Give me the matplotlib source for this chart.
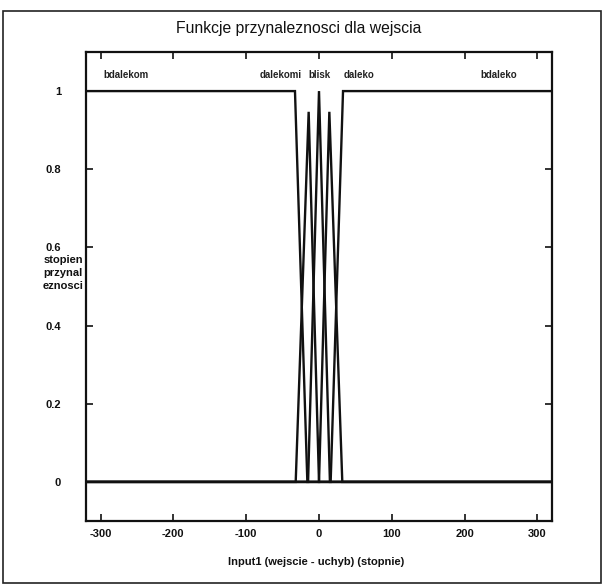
import matplotlib
matplotlib.use("Agg")
import matplotlib.pyplot as plt
from matplotlib.patches import Rectangle

plt.rcParams['font.family'] = ['Liberation Sans', 'DejaVu Sans']

# Membership functions (vertices)
bdalekom_x = [-320, -33, -16, 320]
bdalekom_y = [1, 1, 0, 0]
dalekom_x = [-320, -32, -14.2, 0, 320]
dalekom_y = [0, 0, 0.947, 0, 0]
blisk_x = [-320, -15, 0, 15, 320]
blisk_y = [0, 0, 1, 0, 0]
daleko_x = [-320, 0, 14.2, 32, 320]
daleko_y = [0, 0, 0.947, 0, 0]
bdaleko_x = [-320, 16, 33, 320]
bdaleko_y = [0, 0, 1, 1]

mf_names = ["bdalekom", "dalekomi", "blisk", "daleko", "bdaleko"]
label_x = [-265, -52, 0, 55, 247]
label_y = [1.04, 1.04, 1.04, 1.04, 1.04]

xticks = [-300, -200, -100, 0, 100, 200, 300]
yticks = [0, 0.2, 0.4, 0.6, 0.8, 1]
ytick_labels = ["0", "0.2", "0.4", "0.6", "0.8", "1"]

fig = plt.figure(figsize=(6.05, 5.86), dpi=100)
ax = fig.add_axes([86/605, 1-521/586, (552-86)/605, (521-52)/586])

for xs, ys in [(bdalekom_x, bdalekom_y), (dalekom_x, dalekom_y), (blisk_x, blisk_y),
               (daleko_x, daleko_y), (bdaleko_x, bdaleko_y)]:
    ax.plot(xs, ys, color='#111111', lw=1.7, solid_joinstyle='miter')

for name, lx, ly in zip(mf_names, label_x, label_y):
    ax.text(lx, ly, name, ha='center', va='center', fontsize=7, fontweight='bold', color='#222222')

ax.set_xlim(-320, 320)
ax.set_ylim(-0.1, 1.1)
ax.set_xticks(xticks)
ax.set_xticklabels([str(t) for t in xticks])
ax.set_yticks(yticks)
ax.set_yticklabels(ytick_labels)
ax.tick_params(direction='in', top=True, right=True, length=5, width=1.2,
               labelsize=8, pad=6, colors='#111111')
ax.tick_params(axis='y', pad=18)
for lab in ax.get_xticklabels() + ax.get_yticklabels():
    lab.set_fontweight('bold')
for s in ax.spines.values():
    s.set_linewidth(1.6)
    s.set_color('#111111')

fig.text(299/605, 1-28/586, "Funkcje przynaleznosci dla wejscia", ha='center', va='center',
         fontsize=11.3, color='#111111')

fig.text(316/605, 1-562/586, "Input1 (wejscie - uchyb) (stopnie)", ha='center', va='center',
         fontsize=8, fontweight='bold', color='#111111')
fig.text(63/605, 1-273/586, "stopien\nprzynal\neznosci", ha='center', va='center',
         fontsize=8, fontweight='bold', linespacing=1.35, color='#111111')

fig.patches.append(Rectangle((3/605, 3/586), 598/605, 572/586, transform=fig.transFigure,
                             fill=False, lw=1.2, edgecolor='#222222'))

fig.savefig("out.png", dpi=100)
